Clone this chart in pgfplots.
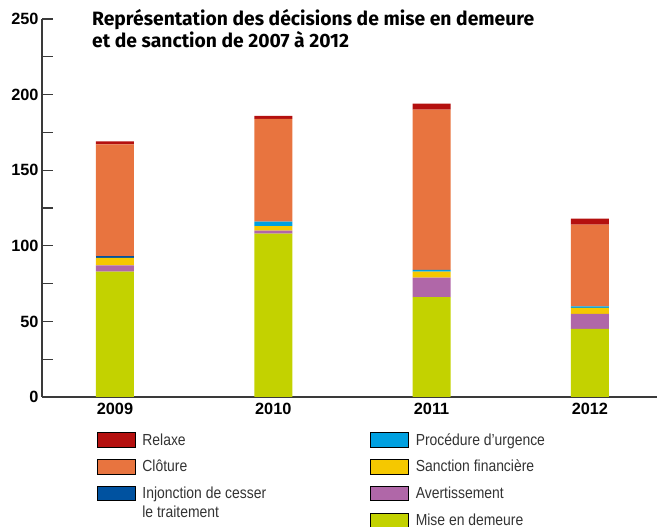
\documentclass[border=0pt]{standalone}
\usepackage{fontspec}
\setmainfont{Liberation Sans}
\newfontfamily\titlefont{Fira Sans}
\newfontfamily\legfont[FakeStretch=0.87]{Liberation Sans}
\usepackage{pgfplots}
\pgfplotsset{compat=1.18}
\definecolor{cRelaxe}{HTML}{B4100F}
\definecolor{cCloture}{HTML}{E8743F}
\definecolor{cInj}{HTML}{0052A0}
\definecolor{cUrg}{HTML}{00A0E0}
\definecolor{cSanc}{HTML}{F5C800}
\definecolor{cAvert}{HTML}{B067A8}
\definecolor{cMise}{HTML}{C3D200}
\definecolor{axgray}{HTML}{3A3A3A}
\newcommand{\legtxt}[1]{\makebox[221pt][l]{\rule{0pt}{11.7pt}\smash{#1}}}
\begin{document}
\begin{tikzpicture}
\useasboundingbox (0,0) rectangle (657pt,527pt);
\begin{axis}[
  at={(42pt,130pt)}, anchor=south west,
  scale only axis, width=615pt, height=378pt,
  xmin=-0.461, xmax=3.424, ymin=0, ymax=250,
  enlargelimits=false,
  axis x line=bottom, axis y line=left,
  axis line style={-, draw=axgray, line width=1.3pt},
  ybar stacked, bar width=38pt,
  xtick={0,1,2,3}, xticklabels={2009,2010,2011,2012},
  major x tick style={draw=none},
  ytick={0,25,...,250}, yticklabels={0,,50,,100,,150,,200,,250},
  tick align=inside, major tick length=11pt,
  major y tick style={draw=axgray, line width=1.3pt},
  /pgf/number format/assume math mode=true,
  ticklabel style={font=\bfseries\fontsize{16.3}{19}\selectfont, text=black},
  xticklabel style={yshift=-2.5pt},
  legend columns=2,
  legend style={draw=none, fill=none, inner sep=0pt, outer sep=0pt,
    at={(0,0)}, anchor=north west, xshift=55pt, yshift=-35.5pt,
    column sep=7pt, row sep=11.8pt,
    nodes={inner sep=0pt, outer sep=0pt, font=\legfont\fontsize{16}{19}\selectfont, text=black!80}},
  legend cell align=left,
  legend image code/.code={\fill[#1] (0pt,-7.25pt) rectangle (38pt,7.25pt);},
]
\addplot+[fill=cMise, draw=none, forget plot] coordinates {(0,83) (1,108) (2,66) (3,45)};
\addplot+[fill=cAvert, draw=none, forget plot] coordinates {(0,4) (1,2) (2,13) (3,10)};
\addplot+[fill=cSanc, draw=none, forget plot] coordinates {(0,5) (1,3) (2,4) (3,4)};
\addplot+[fill=cInj, draw=none, forget plot] coordinates {(0,1) (1,0) (2,0) (3,0)};
\addplot+[fill=cUrg, draw=none, forget plot] coordinates {(0,0) (1,3) (2,1) (3,1)};
\addplot+[fill=cCloture, draw=none, forget plot] coordinates {(0,74) (1,68) (2,106) (3,54)};
\addplot+[fill=cRelaxe, draw=none, forget plot] coordinates {(0,2) (1,2) (2,4) (3,4)};
\addlegendimage{fill=cRelaxe}\addlegendentry{\legtxt{Relaxe}}
\addlegendimage{fill=cUrg}\addlegendentry{\legtxt{Procédure d’urgence}}
\addlegendimage{fill=cCloture}\addlegendentry{\legtxt{Clôture}}
\addlegendimage{fill=cSanc}\addlegendentry{\legtxt{Sanction financière}}
\addlegendimage{fill=cInj}\addlegendentry{\legtxt{\parbox[t]{221pt}{Injonction de cesser\\le traitement}}}
\addlegendimage{fill=cAvert}\addlegendentry{\legtxt{Avertissement}}
\addlegendimage{empty legend}\addlegendentry{}
\addlegendimage{fill=cMise}\addlegendentry{\legtxt{Mise en demeure}}
\end{axis}
\node[anchor=base west, align=left, inner sep=0pt, font=\titlefont\bfseries\fontsize{19.3}{22}\selectfont]
  at (92pt,479.3pt) {Représentation des décisions de mise en demeure\\et de sanction de 2007 à 2012};
\end{tikzpicture}
\end{document}
